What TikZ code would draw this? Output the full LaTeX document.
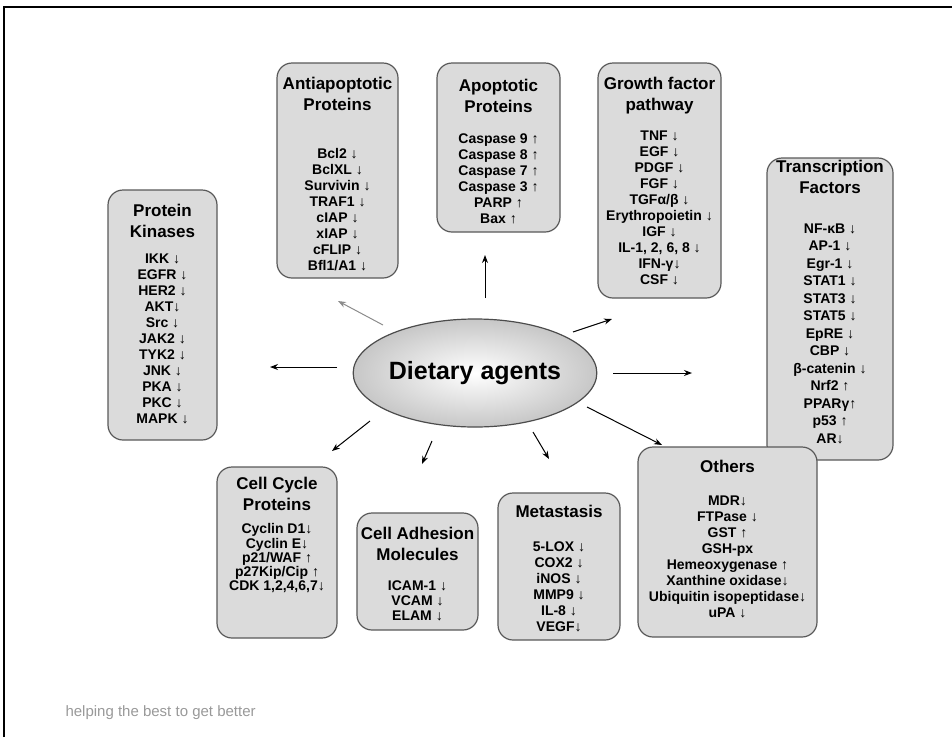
\documentclass[tikz,border=0pt]{standalone}
\usepackage{fontspec}
\setmainfont{Liberation Sans}
\usetikzlibrary{calc,shapes.geometric,arrows.meta}

\newcommand\dwn{{\mdseries ↓}}
\newcommand\upw{{\mdseries ↑}}

\begin{document}
\begin{tikzpicture}[x=1pt, y=-1pt,
    catbox/.style={draw=black!65, line width=1.2pt, fill=black!14, rounded corners=15pt, inner sep=0pt},
    cattitle/.style={anchor=north, align=center, inner sep=0pt, font=\fontsize{17}{20.5}\selectfont\bfseries},
    catlist/.style={anchor=north, align=center, inner sep=0pt, font=\fontsize{14}{#1}\selectfont\bfseries},
    catlist/.default=16,
    push/.style={-{Stealth[length=8pt,width=6pt]}, line width=1pt}]
    \useasboundingbox (0,0) rectangle (952,737);

    % frame of the slide
    \draw[line width=2.5pt] (4,737) -- (4,7) -- (952,7);

    % arrow ends
    \coordinate (kinS) at (337,367); \coordinate (kinE) at (270,367);
    \coordinate (antS) at (383,325); \coordinate (antE) at (338,301);
    \coordinate (apoS) at (485,298); \coordinate (apoE) at (485,255);
    \coordinate (groS) at (573,332); \coordinate (groE) at (612,319);
    \coordinate (traS) at (613,373); \coordinate (traE) at (692,373);
    \coordinate (othS) at (587,407); \coordinate (othE) at (662,445);
    \coordinate (metS) at (533,432); \coordinate (metE) at (549,459);
    \coordinate (adhS) at (432,441); \coordinate (adhE) at (422,464);
    \coordinate (cycS) at (370,421); \coordinate (cycE) at (332,451);

    % centre
    \node[ellipse, draw=black!70, line width=1.2pt, shading=radial, inner color=white, outer color=black!22,
          minimum width=210, minimum height=108, inner sep=0pt,
          font=\fontsize{25}{30}\selectfont\bfseries] (diet) at (475,373) {Dietary agents};

    % boxes
    \node[catbox, minimum width=109, minimum height=250] (kin) at (162.5,315) {};
    \node[cattitle] (kinT) at ($(kin.north)+(0,15)$) {Protein\\Kinases};
    \node[catlist] (kinL) at ($(kin.north)+(0,64)$) {IKK \dwn\\EGFR \dwn\\HER2 \dwn\\AKT\dwn\\Src \dwn\\JAK2 \dwn\\TYK2 \dwn\\JNK \dwn\\PKA \dwn\\PKC \dwn\\MAPK \dwn};

    \node[catbox, minimum width=121, minimum height=215] (ant) at (337.5,170.5) {};
    \node[cattitle] (antT) at ($(ant.north)+(0,15)$) {Antiapoptotic\\Proteins};
    \node[catlist] (antL) at ($(ant.north)+(0,86)$) {Bcl2 \dwn\\BclXL \dwn\\Survivin \dwn\\TRAF1 \dwn\\cIAP \dwn\\xIAP \dwn\\cFLIP \dwn\\Bfl1/A1 \dwn};

    \node[catbox, minimum width=123, minimum height=169] (apo) at (498.5,147.5) {};
    \node[cattitle] (apoT) at ($(apo.north)+(0,17)$) {Apoptotic\\Proteins};
    \node[catlist] (apoL) at ($(apo.north)+(0,71)$) {Caspase 9 \upw\\Caspase 8 \upw\\Caspase 7 \upw\\Caspase 3 \upw\\PARP \upw\\Bax \upw};

    \node[catbox, minimum width=123, minimum height=235] (gro) at (659.5,180.5) {};
    \node[cattitle] (groT) at ($(gro.north)+(0,15)$) {Growth factor\\pathway};
    \node[catlist] (groL) at ($(gro.north)+(0,68)$) {TNF \dwn\\EGF \dwn\\PDGF \dwn\\FGF \dwn\\TGFα/β \dwn\\Erythropoietin \dwn\\IGF \dwn\\IL-1, 2, 6, 8 \dwn\\IFN-γ\dwn\\CSF \dwn};

    \node[catbox, minimum width=126, minimum height=302] (tra) at (830,309) {};
    \node[cattitle] (traT) at ($(tra.north)+(0,3)$) {Transcription\\Factors};
    \node[catlist=17.5] (traL) at ($(tra.north)+(0,66)$) {NF-κB \dwn\\AP-1 \dwn\\Egr-1 \dwn\\STAT1 \dwn\\STAT3 \dwn\\STAT5 \dwn\\EpRE \dwn\\CBP \dwn\\β-catenin \dwn\\Nrf2 \upw\\PPARγ\upw\\p53 \upw\\AR\dwn};

    \node[catbox, minimum width=120, minimum height=171] (cyc) at (277,552.5) {};
    \node[cattitle] (cycT) at ($(cyc.north)+(0,11)$) {Cell Cycle\\Proteins};
    \node[catlist=14.3] (cycL) at ($(cyc.north)+(0,57)$) {Cyclin D1\dwn\\Cyclin E\dwn\\p21/WAF \upw\\p27Kip/Cip \upw\\CDK 1,2,4,6,7\dwn};

    \node[catbox, minimum width=121, minimum height=117] (adh) at (417.5,571.5) {};
    \node[cattitle] (adhT) at ($(adh.north)+(0,15)$) {Cell Adhesion\\Molecules};
    \node[catlist=15] (adhL) at ($(adh.north)+(0,68)$) {ICAM-1 \dwn\\VCAM \dwn\\ELAM \dwn};

    \node[catbox, minimum width=122, minimum height=147] (met) at (559,566.5) {};
    \node[cattitle] (metT) at ($(met.north)+(0,13)$) {Metastasis};
    \node[catlist] (metL) at ($(met.north)+(0,49)$) {5-LOX \dwn\\COX2 \dwn\\iNOS \dwn\\MMP9 \dwn\\IL-8 \dwn\\VEGF\dwn};

    \node[catbox, minimum width=179, minimum height=190] (oth) at (727.5,542) {};
    \node[cattitle] (othT) at ($(oth.north)+(0,14)$) {Others};
    \node[catlist] (othL) at ($(oth.north)+(0,49)$) {MDR\dwn\\FTPase \dwn\\GST \upw\\GSH-px\\Hemeoxygenase \upw\\Xanthine oxidase\dwn\\Ubiquitin isopeptidase\dwn\\uPA \dwn};

    % arrows
    \draw[push] (kinS) -- (kinE);
    \draw[push, black!45] (antS) -- (antE);
    \draw[push] (apoS) -- (apoE);
    \draw[push] (groS) -- (groE);
    \draw[push] (traS) -- (traE);
    \draw[push] (othS) -- (othE);
    \draw[push] (metS) -- (metE);
    \draw[push] (adhS) -- (adhE);
    \draw[push] (cycS) -- (cycE);

    \node[text=black!40, anchor=base west, font=\fontsize{15}{18}\selectfont] (foot) at (62,716) {helping the best to get better};
\end{tikzpicture}
\end{document}
